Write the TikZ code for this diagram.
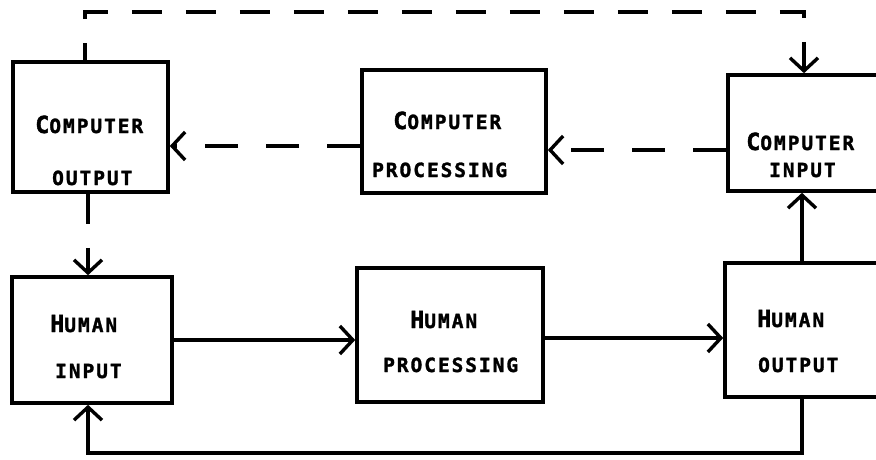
\documentclass[tikz,border=0pt]{standalone}
\usepackage{fontspec}
\usetikzlibrary{arrows.meta}
\newfontfamily\labfont{DejaVu Sans Mono Bold}[LetterSpace=10, AutoFakeBold=1.6]
\newcommand\scBig[1]{{\fontsize{23.5}{23.5}\selectfont #1}}
\newcommand\scSm[1]{{\fontsize{19.5}{19.5}\selectfont #1}}
\begin{document}
\begin{tikzpicture}[x=1pt,y=-1pt,
  boxstyle/.style={draw, line width=3.6pt, inner sep=0pt},
  lab/.style={anchor=base west, inner sep=0pt, font=\labfont\bfseries},
  conn/.style={line width=3.4pt, -{Straight Barb[length=13pt,width=28pt,line width=3.4pt]}},
  dconn/.style={conn, dash pattern=on 30pt off 24pt},
  plainline/.style={line width=3.4pt}]
\useasboundingbox (0,0) rectangle (876,460);
\clip (0,0) rectangle (876,460);
% boxes
\node[boxstyle, minimum width=155pt, minimum height=130pt] (co) at (90.5,127) {};
\node[boxstyle, minimum width=184pt, minimum height=123pt] (cp) at (454,131.5) {};
\node[boxstyle, minimum width=160pt, minimum height=116pt] (ci) at (808,133) {};
\node[boxstyle, minimum width=160pt, minimum height=126pt] (hi) at (92,340) {};
\node[boxstyle, minimum width=186pt, minimum height=134pt] (hp) at (450,335) {};
\node[boxstyle, minimum width=170pt, minimum height=134pt] (ho) at (810,330) {};
% labels
\node[lab] (co1) at (35,133) {\scBig{C}\scSm{OMPUTER}};
\node[lab] (co2) at (52,185) {\scSm{OUTPUT}};
\node[lab] (cp1) at (393,129) {\scBig{C}\scSm{OMPUTER}};
\node[lab] (cp2) at (372,177) {\scSm{PROCESSING}};
\node[lab] (ci1) at (746,150) {\scBig{C}\scSm{OMPUTER}};
\node[lab] (ci2) at (769,177) {\scSm{INPUT}};
\node[lab] (hi1) at (50,332) {\scBig{H}\scSm{UMAN}};
\node[lab] (hi2) at (55,378) {\scSm{INPUT}};
\node[lab] (hp1) at (410,328) {\scBig{H}\scSm{UMAN}};
\node[lab] (hp2) at (383,372) {\scSm{PROCESSING}};
\node[lab] (ho1) at (757,327) {\scBig{H}\scSm{UMAN}};
\node[lab] (ho2) at (758,372) {\scSm{OUTPUT}};
% corners
\coordinate (tl) at (85,12);
\coordinate (tr) at (804,12);
\coordinate (bl) at (88,453);
\coordinate (br) at (802,453);
% dashed connectors
\draw[dconn, dash phase=13pt] (co.north -| tl) -- (tl) -- (tr) -- (ci.north -| tr);
\draw[dconn, dash pattern=on 33pt off 28pt] (ci.west |- 0,150) -- (cp.east |- 0,150);
\draw[dconn, dash pattern=on 33pt off 28pt] (cp.west |- 0,146) -- (co.east |- 0,146);
\draw[dconn] (co.south -| bl) -- (hi.north -| bl);
% solid connectors
\draw[conn] (hi.east |- 0,340) -- (hp.west |- 0,340);
\draw[conn] (hp.east |- 0,338) -- (ho.west |- 0,338);
\draw[conn] (ho.north -| br) -- (ci.south -| br);
\draw[conn] (ho.south -| br) -- (br) -- (bl) -- (hi.south -| bl);
\end{tikzpicture}
\end{document}
